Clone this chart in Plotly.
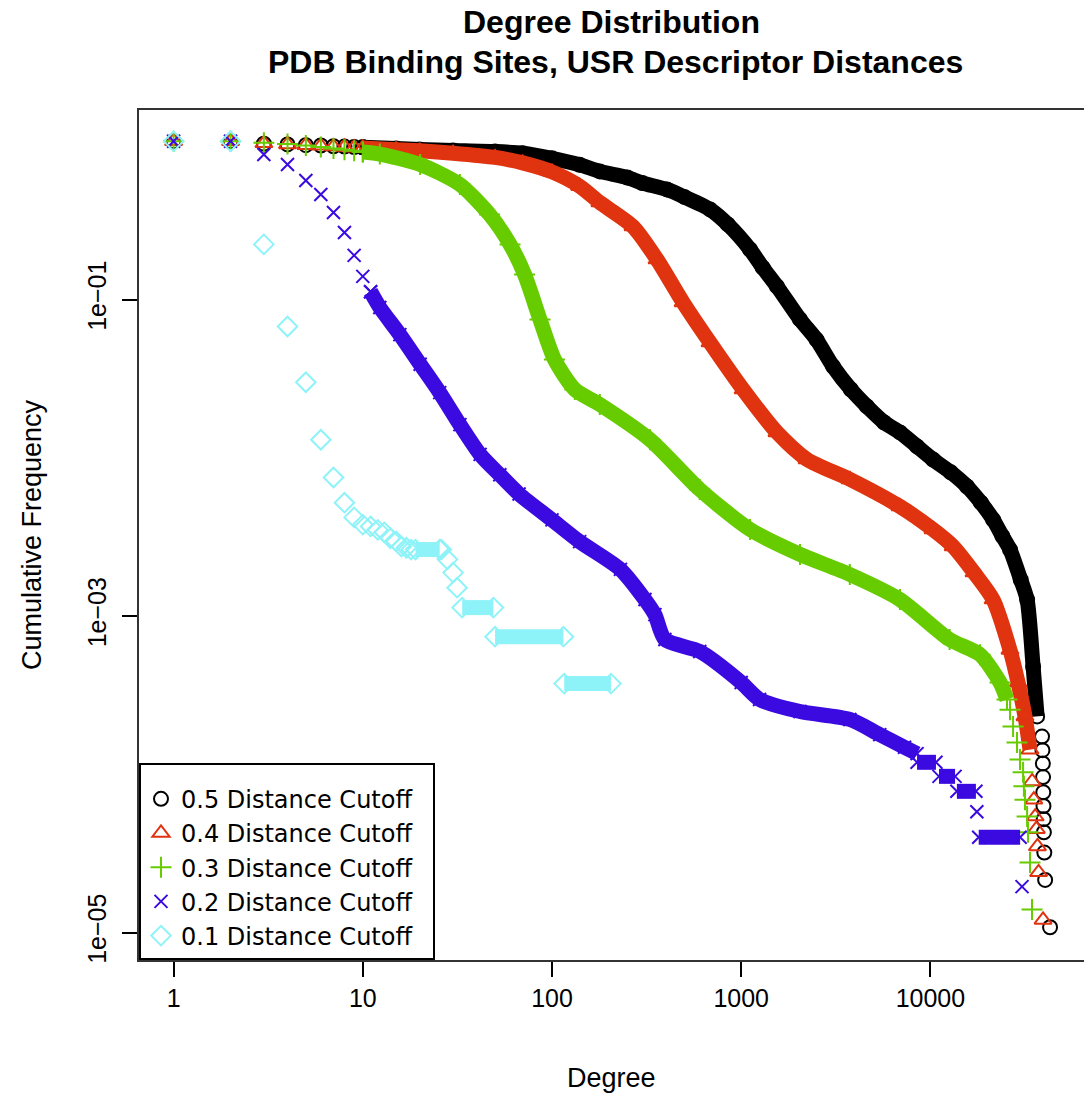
import plotly.graph_objects as go

# ---------------- data ----------------
# 0.5 distance cutoff (black circles)
deg_05_pts = [1, 2, 3, 4, 5, 6, 7, 8, 9, 10]
frq_05_pts = [1.0, 1.0, 0.965, 0.955, 0.945, 0.94, 0.93, 0.925, 0.92, 0.915]
deg_05_band = [10, 15, 20, 30, 50, 70, 100, 140, 179, 250, 300, 405, 500, 684, 850, 1114,
               1300, 1546, 2046, 2500, 3057, 3800, 4620, 5700, 6905, 8500, 10320, 12800,
               15620, 18500, 21440, 24000, 26350, 30000, 32440, 34900, 36650]
frq_05_band = [0.915, 0.90, 0.887, 0.875, 0.861, 0.84, 0.78, 0.71, 0.645, 0.59, 0.545, 0.496,
               0.445, 0.371, 0.298, 0.207, 0.159, 0.121, 0.0748, 0.0558, 0.0378, 0.027, 0.0211,
               0.0167, 0.01445, 0.0118, 0.00975, 0.0081, 0.00658, 0.0052, 0.00407, 0.0032,
               0.00263, 0.0017, 0.00127, 0.00048, 0.000232]
deg_05_tail = [38900, 39100, 39300, 39400, 39500, 39600, 39700, 39800, 40000, 40400, 42900]
frq_05_tail = [1.73e-4, 1.42e-4, 1.17e-4, 9.6e-5, 7.7e-5, 6.3e-5, 5.2e-5, 4.3e-5, 3.2e-5,
               2.15e-5, 1.08e-5]

# 0.4 distance cutoff (red triangles)
deg_04_pts = [1, 2, 3, 4, 5, 6, 7, 8, 9, 10]
frq_04_pts = [1.0, 1.0, 0.97, 0.955, 0.945, 0.935, 0.925, 0.92, 0.91, 0.905]
deg_04_band = [10, 15, 20, 30, 50, 70, 100, 140, 179, 268, 359, 493, 684, 1023, 1546, 2228,
               3758, 6905, 10320, 13190, 17000, 21440, 26350, 29050, 31620, 33620]
frq_04_band = [0.905, 0.885, 0.87, 0.84, 0.79, 0.73, 0.64, 0.52, 0.41, 0.289, 0.179, 0.0958,
               0.0535, 0.027, 0.01445, 0.00975, 0.0073, 0.00492, 0.00352, 0.00275, 0.00188,
               0.00127, 0.00061, 0.00038, 0.000232, 0.000143]
deg_04_tail = [34500, 35200, 35800, 36300, 36800, 37300, 39400]
frq_04_tail = [9.0e-5, 6.9e-5, 5.4e-5, 4.5e-5, 3.5e-5, 2.4e-5, 1.2e-5]

# 0.3 distance cutoff (green pluses)
deg_03_pts = [1, 2, 3, 4, 5, 6, 7, 8, 9, 10]
frq_03_pts = [1.0, 1.0, 0.98, 0.96, 0.94, 0.92, 0.90, 0.885, 0.87, 0.855]
deg_03_band = [10, 12.3, 20.1, 32.6, 46.8, 60, 71.6, 86.4, 103, 132, 179, 330, 604, 1114,
               2046, 3750, 6905, 12630, 18300, 23340, 25400]
frq_03_band = [0.855, 0.83, 0.713, 0.533, 0.344, 0.223, 0.144, 0.0748, 0.0418, 0.027, 0.0217,
               0.013, 0.0063, 0.00352, 0.00245, 0.00183, 0.00127, 0.00071, 0.00057, 0.00038,
               0.000297]
deg_03_tail = [26350, 27350, 28700, 29760, 30900, 31200, 31620, 32440, 32800, 33620, 34440]
frq_03_tail = [2.56e-4, 2.0e-4, 1.59e-4, 1.24e-4, 1.03e-4, 8.4e-5, 6.9e-5, 5.4e-5, 4.3e-5,
               2.77e-5, 1.4e-5]

# 0.2 distance cutoff (blue crosses)
deg_02_pts = [1, 2, 3, 4, 5, 6, 7, 8, 9, 10, 11]
frq_02_pts = [1.0, 1.0, 0.825, 0.713, 0.565, 0.461, 0.355, 0.265, 0.19, 0.14, 0.112]
deg_02_band = [11, 12.3, 15.7, 20.1, 25.5, 32.6, 41.7, 53, 67, 100, 140, 230, 310, 350, 395,
               604, 1000, 1250, 2046, 3750, 5400, 7300, 8500]
frq_02_band = [0.112, 0.089, 0.060, 0.039, 0.0258, 0.0162, 0.0105, 0.0078, 0.0059, 0.00405,
               0.00295, 0.00197, 0.00127, 0.00102, 0.00071, 0.000597, 0.00038, 0.000297,
               0.000249, 0.000222, 0.000178, 0.000148, 0.000135]
deg_02_steps = [[8500, 10700], [11100, 13500], [13800, 17400], [18000, 29800]]
frq_02_steps = [1.19e-4, 9.7e-5, 7.8e-5, 4.0e-5]
deg_02_tail = [17600, 30500]
frq_02_tail = [5.8e-5, 1.95e-5]

# 0.1 distance cutoff (cyan diamonds)
deg_01_pts = [1, 2, 3, 4, 5, 6, 7, 8, 9, 10, 11, 12, 13, 14, 15, 16, 17, 18, 26, 28, 30, 31.5]
frq_01_pts = [1.0, 1.0, 0.223, 0.0675, 0.030, 0.0130, 0.0075, 0.0052, 0.0042, 0.00378, 0.00368,
              0.0035, 0.00338, 0.0031, 0.00296, 0.00275, 0.0027, 0.00263, 0.00263, 0.00228,
              0.00188, 0.00151]
deg_01_steps = [[19, 25.5], [33.5, 49], [50, 115], [116, 205]]
frq_01_steps = [0.00263, 0.00113, 0.00074, 0.000374]

# ---------------- styling ----------------
names = ["0.5 Distance Cutoff", "0.4 Distance Cutoff", "0.3 Distance Cutoff",
         "0.2 Distance Cutoff", "0.1 Distance Cutoff"]
colors = ["#000000", "#E0330F", "#66CC00", "#3A0AE0", "#8EF3F8"]
symbols = ["circle-open", "triangle-up-open", "cross-thin-open", "x-thin-open", "diamond-open"]
msize = [14, 15, 15, 13, 15]
band_w = 15

FONT = "Liberation Sans, Arial, Helvetica, sans-serif"
LEG_FONT = "DejaVu Sans, Liberation Sans, sans-serif"

fig = go.Figure()


def add_band(xs, ys, i, shape="spline"):
    fig.add_trace(go.Scatter(
        x=xs, y=ys, mode="lines+markers", showlegend=False, hoverinfo="skip",
        line=dict(color=colors[i], width=band_w, shape=shape, smoothing=0.7),
        connectgaps=False,
        marker=dict(symbol=symbols[i], size=msize[i], color=colors[i],
                    line=dict(color=colors[i], width=2))))


def add_pts(xs, ys, i):
    fig.add_trace(go.Scatter(
        x=xs, y=ys, mode="markers", name=names[i] + "\u00a0\u00a0",
        marker=dict(symbol=symbols[i], size=msize[i], color=colors[i],
                    line=dict(color=colors[i], width=2))))


def steps_xy(dsteps, fsteps):
    xs, ys = [], []
    for (a, b), f in zip(dsteps, fsteps):
        xs += [a, b, None]
        ys += [f, f, None]
    return xs, ys


# 0.5
add_band(deg_05_band, frq_05_band, 0)
add_pts(deg_05_pts + deg_05_tail, frq_05_pts + frq_05_tail, 0)
# 0.4
add_band(deg_04_band, frq_04_band, 1)
add_pts(deg_04_pts + deg_04_tail, frq_04_pts + frq_04_tail, 1)
# 0.3
add_band(deg_03_band, frq_03_band, 2)
add_pts(deg_03_pts + deg_03_tail, frq_03_pts + frq_03_tail, 2)
# 0.2
add_band(deg_02_band, frq_02_band, 3)
sx, sy = steps_xy(deg_02_steps, frq_02_steps)
add_band(sx, sy, 3, shape="linear")
add_pts(deg_02_pts + deg_02_tail, frq_02_pts + frq_02_tail, 3)
# 0.1
sx, sy = steps_xy(deg_01_steps, frq_01_steps)
add_band(sx, sy, 4, shape="linear")
add_pts(deg_01_pts, frq_01_pts, 4)

# ---------------- layout ----------------
L, R, T, B = 139, 0, 110, 135
W, H = 1084, 1095
px_dec_x = 189.2
px_dec_y = 158.25
x_lo = (139 - 173.6) / px_dec_x
x_hi = x_lo + (W - L - R) / px_dec_x
y_hi = 0.1975
y_lo = y_hi - (H - T - B) / px_dec_y
PH = H - T - B

fig.update_layout(
    width=W, height=H,
    margin=dict(l=L, r=R, t=T, b=B, pad=0),
    paper_bgcolor="white", plot_bgcolor="white",
    font=dict(family=FONT, color="black"),
    xaxis=dict(type="log", range=[x_lo, x_hi], tickvals=[1, 10, 100, 1000, 10000],
               ticktext=["1", "10", "100", "1000", "10000"], ticks="outside", ticklen=15,
               tickwidth=1.5, tickcolor="black", showline=True, linecolor="#333333",
               linewidth=2, mirror=True, showgrid=False, zeroline=False,
               tickfont=dict(size=25, family=FONT), ticklabelstandoff=0),
    yaxis=dict(type="log", range=[y_lo, y_hi], tickvals=[1e-1, 1e-3, 1e-5],
               ticktext=["1e\u221201", "1e\u221203", "1e\u221205"], ticks="outside",
               ticklen=15, tickwidth=1.5, tickcolor="black", showline=True,
               linecolor="#333333", linewidth=2, showgrid=False, zeroline=False,
               tickangle=-90, tickfont=dict(size=25, family=FONT), ticklabelstandoff=6),
    legend=dict(x=0, y=0, xanchor="left", yanchor="bottom", bordercolor="black",
                borderwidth=2, bgcolor="white", font=dict(size=24, family=LEG_FONT),
                tracegroupgap=0, itemsizing="trace",
                title=dict(text="\u00a0", font=dict(size=9, family=LEG_FONT))),
    showlegend=True,
    annotations=[
        dict(text="<b>Degree Distribution</b>", xref="paper", yref="paper",
             x=(611.5 - L) / (W - L), y=1 + (T - 22) / PH, xanchor="center",
             yanchor="middle", showarrow=False, font=dict(size=32, family=FONT)),
        dict(text="<b>PDB Binding Sites, USR Descriptor Distances</b>", xref="paper",
             yref="paper", x=(615 - L) / (W - L), y=1 + (T - 62) / PH, xanchor="center",
             yanchor="middle", showarrow=False, font=dict(size=32, family=FONT)),
        dict(text="Degree", xref="paper", yref="paper", x=0.5, y=-(1078 - 960) / PH,
             xanchor="center", yanchor="middle", showarrow=False,
             font=dict(size=27, family=FONT)),
        dict(text="Cumulative Frequency", xref="paper", yref="paper",
             x=(32 - L) / (W - L), y=0.5, xanchor="center", yanchor="middle",
             textangle=-90, showarrow=False, font=dict(size=27, family=FONT)),
    ],
)

fig.write_html("out.html")
